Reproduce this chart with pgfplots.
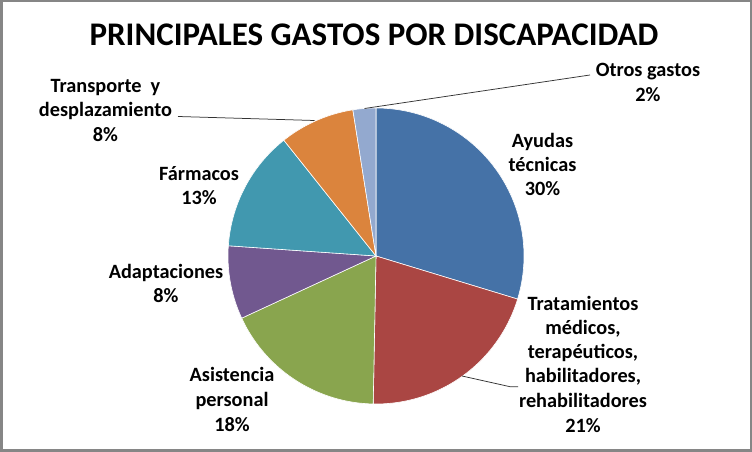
\documentclass[border=0pt]{standalone}
\usepackage{pgfplots}
\pgfplotsset{compat=1.18}
\usepackage{fontspec}
\setmainfont{Carlito}
\definecolor{cA}{HTML}{4572A7}
\definecolor{cT}{HTML}{AA4643}
\definecolor{cAs}{HTML}{89A54E}
\definecolor{cAd}{HTML}{71588F}
\definecolor{cF}{HTML}{4198AF}
\definecolor{cTr}{HTML}{DB843D}
\definecolor{cO}{HTML}{93A9CF}
\definecolor{fr}{RGB}{134,134,134}
\newcommand\lf{\fontsize{20.3bp}{24.5bp}\selectfont\bfseries}
\newcommand\tf{\fontsize{33bp}{38bp}\selectfont\bfseries}
% shares (percent)
\def\vA{29.7}  % Ayudas tecnicas
\def\vT{20.6}  % Tratamientos
\def\vAs{17.8} % Asistencia personal
\def\vAd{8.0}  % Adaptaciones
\def\vF{13.2}  % Farmacos
\def\vTr{8.2}  % Transporte
\def\vO{2.5}   % Otros gastos
\begin{document}
\begin{tikzpicture}
\useasboundingbox (0,0) rectangle (752bp,452bp);
\fill[white] (0,0) rectangle (752bp,452bp);
\pgfmathsetmacro\aO{90}
\pgfmathsetmacro\aA{\aO-3.6*\vA}
\pgfmathsetmacro\aT{\aA-3.6*\vT}
\pgfmathsetmacro\aAs{\aT-3.6*\vAs}
\pgfmathsetmacro\aAd{\aAs-3.6*\vAd}
\pgfmathsetmacro\aF{\aAd-3.6*\vF}
\pgfmathsetmacro\aTr{\aF-3.6*\vTr}
\pgfmathsetmacro\aE{\aTr-3.6*\vO}
\begin{axis}[at={(376bp,196bp)}, anchor=center, x=148bp, y=148bp,
  xmin=-1, xmax=1, ymin=-1, ymax=1, hide axis, clip=false]
\addplot[fill=cA, draw=white, line width=0.6pt, domain=\aA:\aO, samples=80] ({cos(x)},{sin(x)}) -- (0,0) -- cycle;
\addplot[fill=cT, draw=white, line width=0.6pt, domain=\aT:\aA, samples=60] ({cos(x)},{sin(x)}) -- (0,0) -- cycle;
\addplot[fill=cAs, draw=white, line width=0.6pt, domain=\aAs:\aT, samples=60] ({cos(x)},{sin(x)}) -- (0,0) -- cycle;
\addplot[fill=cAd, draw=white, line width=0.6pt, domain=\aAd:\aAs, samples=40] ({cos(x)},{sin(x)}) -- (0,0) -- cycle;
\addplot[fill=cF, draw=white, line width=0.6pt, domain=\aF:\aAd, samples=50] ({cos(x)},{sin(x)}) -- (0,0) -- cycle;
\addplot[fill=cTr, draw=white, line width=0.6pt, domain=\aTr:\aF, samples=40] ({cos(x)},{sin(x)}) -- (0,0) -- cycle;
\addplot[fill=cO, draw=white, line width=0.6pt, domain=\aE:\aTr, samples=20] ({cos(x)},{sin(x)}) -- (0,0) -- cycle;
\end{axis}
\begin{scope}[shift={(0,452bp)}, x=1bp, y=-1bp]
\node[anchor=base, font=\tf, inner sep=0] at (374,45.5) {PRINCIPALES GASTOS POR DISCAPACIDAD};
% leader lines
\draw[line width=0.75bp, black!80] (178,116.5) -- (314.5,120.5);
\draw[line width=0.75bp, black!80] (590,75) -- (364.5,108.5);
\draw[line width=0.75bp, black!80] (462,376) -- (510,386.7) -- (518,386.7);
% labels
\begin{scope}[every node/.style={anchor=base, font=\lf, inner sep=0}]
\node at (648,76.7) {Otros gastos};
\node at (648,101.7) {2\%};
\node at (542.5,147.3) {Ayudas};
\node at (542.5,171.7) {técnicas};
\node at (542.5,196) {30\%};
\node at (583,310.7) {Tratamientos};
\node at (583,334.5) {médicos,};
\node at (583,358.7) {terapéuticos,};
\node at (583,383) {habilitadores,};
\node at (583,408) {rehabilitadores};
\node at (583,433) {21\%};
\node at (232,381.7) {Asistencia};
\node at (232,406.7) {personal};
\node at (232,431.7) {18\%};
\node at (166,278.3) {Adaptaciones};
\node at (166,302.7) {8\%};
\node at (199,180.7) {Fármacos};
\node at (199,205) {13\%};
\node at (105.5,92.3) {Transporte\ \ y};
\node at (105.5,116.7) {desplazamiento};
\node at (105.5,141.7) {8\%};
\end{scope}
\end{scope}
\draw[fr, line width=2.5bp] (1.25bp,1.25bp) rectangle (750.75bp,450.75bp);
\end{tikzpicture}
\end{document}
